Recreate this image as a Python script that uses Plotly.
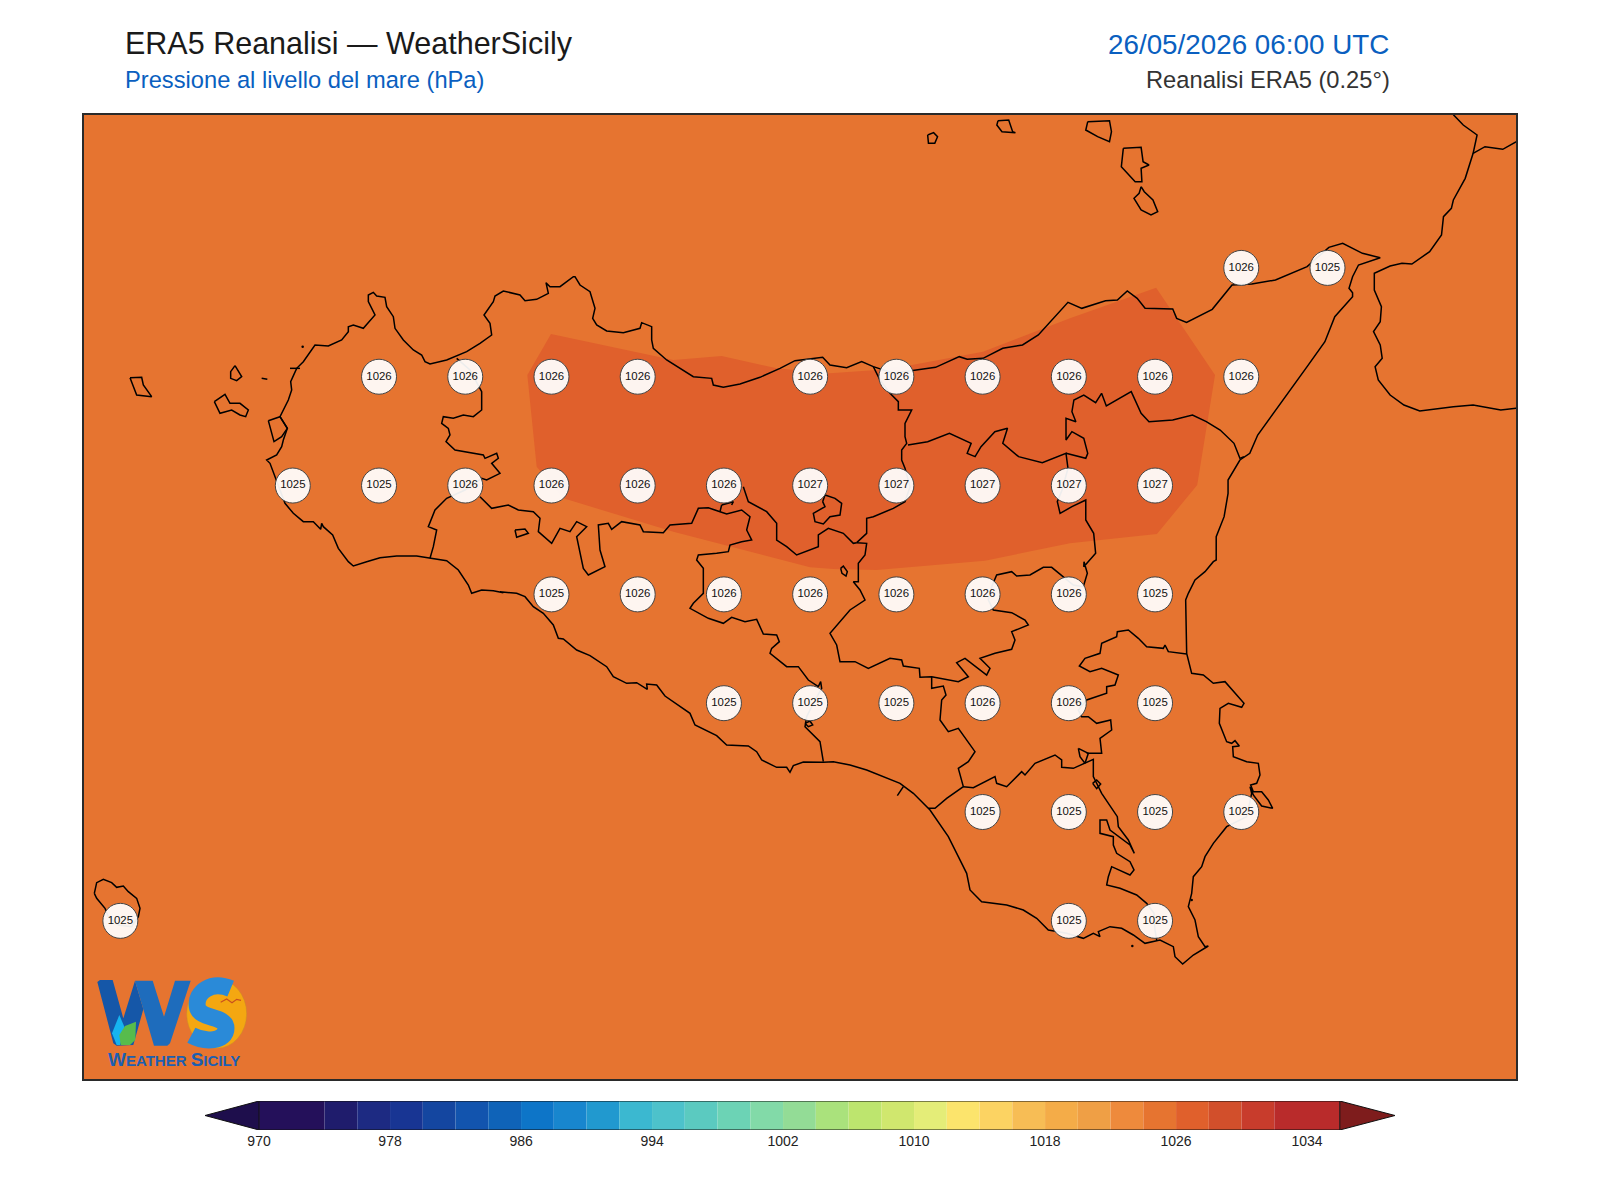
import plotly.graph_objects as go

W, H = 1600, 1200
AX_L, AX_R, AX_T, AX_B = 84, 1516, 115, 1079
CB_L, CB_R, CB_T, CB_B = 205, 1395, 1101, 1130

# ---- title texts
TITLE = "ERA5 Reanalisi — WeatherSicily"
SUBTITLE = "Pressione al livello del mare (hPa)"
DATE = "26/05/2026 06:00 UTC"
SOURCE = "Reanalisi ERA5 (0.25°)"

# ---- colour bar
BAND_EDGES = [970, 974, 976, 978, 980, 982, 984, 986, 988, 990, 992, 994, 996, 998, 1000, 1002, 1004,
              1006, 1008, 1010, 1012, 1014, 1016, 1018, 1020, 1022, 1024, 1026, 1028, 1030, 1032, 1036]
BAND_COLORS = ["#24105A", "#1F1C6C", "#1D2A82", "#183593", "#1446A0", "#1254AE", "#0F63B8", "#0D75C8",
               "#1886CE", "#2199CF", "#3BB8D0", "#4DC2CB", "#5BCAC0", "#6CD3B5", "#82DAA8", "#93DC96",
               "#AAE27C", "#BDE56E", "#D0E76E", "#E4ED78", "#FCE46C", "#FCD362", "#F7BD55", "#F4AC48",
               "#EF9F45", "#EE8A3C", "#E67430", "#E0602C", "#D24F2B", "#C83C2C", "#B92B2B"]
UNDER_COLOR = "#1E0E4C"
OVER_COLOR = "#7E1C1C"
CB_TICKS = [970, 978, 986, 994, 1002, 1010, 1018, 1026, 1034]
CB_MIN, CB_MAX = 966.70, 1039.37

# ---- grid-point pressure labels (lat -> lons, values)
LAB_38_25 = ([15.25, 15.5], [1026, 1025])
LAB_38_00 = ([12.75, 13.0, 13.25, 13.5, 14.0, 14.25, 14.5, 14.75, 15.0, 15.25], [1026] * 10)
LAB_37_75 = ([12.5, 12.75, 13.0, 13.25, 13.5, 13.75, 14.0, 14.25, 14.5, 14.75, 15.0],
             [1025, 1025, 1026, 1026, 1026, 1026, 1027, 1027, 1027, 1027, 1027])
LAB_37_50 = ([13.25, 13.5, 13.75, 14.0, 14.25, 14.5, 14.75, 15.0],
             [1025, 1026, 1026, 1026, 1026, 1026, 1026, 1025])
LAB_37_25 = ([13.75, 14.0, 14.25, 14.5, 14.75, 15.0], [1025, 1025, 1025, 1026, 1026, 1025])
LAB_37_00 = ([14.5, 14.75, 15.0, 15.25], [1025, 1025, 1025, 1025])
LAB_36_75 = ([12.0, 14.75, 15.0], [1025, 1025, 1025])

# ---- digitised outlines: image-read positions, converted to lon/lat below
CROP_A = (80, 260, 3.0)
CROP_B = (500, 260, 3.0)
CROP_C = (900, 110, 2.53, 3.0)
CROP_D = (500, 560, 3.0)
CROP_E = (880, 560, 3.0)
CROP_F = (85, 860, 3.0)

COAST_N1 = [(1270,998),(1240,992),(1205,990),(1175,1000),(1165,975),(1135,930),(1100,902),(1060,895),(1010,888),(950,888),(900,893),(860,905),(820,918),(805,905),(775,865),(758,825),(730,800),(725,790),(722,808),(700,785),(670,785),(640,760),(615,730),(600,690),(575,625),(570,610),(560,600),(590,585),(605,560),(610,540),(622,505),(600,470),(625,420),(635,390),(632,365),(650,325),(670,305),(690,275),(705,255),(745,258),(785,240),(805,215),(805,200),(820,195),(850,205),(885,165),(865,125),(865,105),(880,97),(890,108),(915,112),(920,140),(940,170),(945,205),(970,240),(1000,270),(1025,285),(1035,305),(1050,312),(1100,300),(1160,275),(1200,250),(1235,225),(1230,190),(1212,165),(1240,125),(1245,108),(1270,93),(1320,105),(1335,122),(1370,118),(1405,100),(1398,68),(1410,80),(1440,80),(1480,50)]
COAST_N2 = [(225,50),(240,75),(270,95),(285,145),(278,175),(290,195),(320,213),(370,218),(420,205),(425,188),(455,200),(455,240),(460,265),(500,300),(540,325),(580,350),(635,355),(640,375),(670,382),(720,372),(780,352),(840,325),(885,302),(950,295),(968,292),(990,315),(1040,323),(1085,305),(1120,320),(1180,340)]
COAST_N3 = [(40,780),(90,772),(150,740),(170,748),(210,745),(260,715),(310,705),(350,675),(425,577),(460,595),(520,572),(550,570),(575,543),(600,565),(620,595),(690,597),(700,625),(725,637),(790,598),(840,525),(890,522),(950,510),(1030,470),(1085,412),(1120,400),(1170,430),(1215,443),(1160,465),(1145,500),(1136,535),(1145,548),(1145,560),(1100,620),(1075,695),(1030,770),(950,900),(905,975),(885,1030),(860,1050),(830,1110),(830,1150),(820,1220),(800,1280),(800,1350)]
COAST_E = [(1000,5),(975,35),(945,60),(925,100),(917,120),(920,280),(935,340),(970,345),(1000,370),(1035,365),(1065,400),(1092,430),(1085,442),(1065,435),(1045,430),(1020,445),(1018,490),(1040,545),(1055,550),(1065,542),(1078,558),(1058,560),(1060,590),(1100,605),(1135,610),(1140,645),(1130,670),(1112,675),(1120,695),(1145,695),(1165,720),(1178,745),(1145,738),(1120,705),(1110,680),(1115,700),(1100,770),(1040,800),(1000,850),(975,890),(965,920),(940,950),(935,1000),(925,1040),(945,1080),(955,1130),(975,1160),(985,1158),(965,1170),(940,1185),(908,1212),(885,1190),(880,1160),(840,1140),(795,1150),(760,1125),(725,1105),(690,1100),(655,1115),(660,1130),(640,1120),(610,1135),(560,1120),(505,1110),(470,1075),(430,1050),(380,1035),(340,1030),(305,1025),(270,990),(260,940),(235,890),(205,830),(150,750),(100,700),(60,670),(0,645)]
COAST_S = [(1100,630),(1050,615),(1000,605),(970,607),(910,606),(880,617),(870,637),(860,622),(830,622),(785,600),(770,575),(745,558),(680,555),(650,527),(585,495),(570,460),(540,440),(495,408),(470,375),(440,372),(442,388),(410,368),(380,370),(340,350),(320,320),(270,287),(230,270),(190,237),(175,235),(160,195),(130,160),(100,140),(75,110),(50,100),(0,95)]

BORDER_TP_PA = [(1130,295),(1170,330),(1205,395),(1205,450),(1180,470),(1150,465),(1120,475),(1090,470),(1085,490),(1105,505),(1110,525),(1098,545),(1125,570),(1210,585),(1215,595),(1250,580),(1255,595),(1235,610),(1260,640),(1220,660),(1205,655),(1155,690),(1100,715),(1065,750),(1045,800),(1070,810),(1060,860),(1050,895)]
BORDER_PA_AG1 = [(1200,710),(1235,745),(1285,735),(1315,750),(1360,755),(1380,775),(1375,815),(1415,850),(1440,805),(1470,815)]
BORDER_PA_AG2 = [(230,785),(260,800),(230,830),(240,880),(250,925),(265,945),(315,920),(300,870),(295,795),(325,790),(335,808),(365,785),(420,795),(430,815),(490,818),(510,795),(575,790),(595,745),(625,743),(660,755),(680,762),(725,750),(750,770),(740,810),(755,840),(725,845),(690,855),(685,875),(650,880),(595,885),(590,900),(610,925),(610,1000),(580,1030),(570,1045)]
BORDER_AG_CL = [(570,145),(625,175),(670,190),(695,172),(735,185),(770,178),(790,222),(830,225),(838,245),(815,265),(810,280),(860,320),(895,320),(925,360),(955,380),(962,365),(965,385),(940,430),(920,470),(915,500),(960,545),(970,605)]
BORDER_STUB = [(665,735),(660,755)]
BORDER_STUB2 = [(665,735),(700,725),(695,735)]
BORDER_PA_CL = [(730,680),(745,725),(800,755),(830,790),(830,840),(860,860),(890,885),(955,860),(955,825),(985,805),(1030,820),(1060,850),(1070,848)]
BORDER_ME_1 = [(1120,320),(1140,360),(1170,400),(1195,425),(1195,450),(1235,450),(1215,490),(1215,530),(1220,550),(1205,570),(1205,600),(1215,625),(1230,680),(1215,725),(1180,745),(1120,770),(1100,775),(1100,820),(1070,848),(1100,850),(1095,885),(1075,910),(1075,965),(1060,965),(1080,990),(1095,1020)]
BORDER_EN_1 = [(1050,150),(1000,210),(990,220),(1010,255),(1020,305),(1065,305),(1105,325),(1170,295),(1205,300),(1210,318),(1258,325),(1260,352),(1295,350)]
BORDER_CT_1 = [(155,350),(235,365),(265,350),(230,308),(255,295),(320,345),(330,325),(300,295),(345,280),(395,268),(405,240),(395,215),(445,195),(435,180),(395,158),(340,150),(325,120),(335,80),(350,45),(395,35),(410,48),(450,45),(490,22),(515,22),(550,50),(580,75),(610,80),(622,40),(612,5)]
BORDER_ME_2 = [(465,1370),(495,1330),(490,1270),(470,1230),(470,1170),(435,1190),(405,1210),(398,1175),(410,1140),(425,1075),(420,1030),(360,1058),(300,1040),(260,1000),(272,955),(240,965),(205,1010),(190,1040),(170,1030),(180,1000),(125,970),(70,995),(20,1005)]
BORDER_ME_3 = [(420,1030),(470,1045),(475,1030),(465,985),(435,965),(420,990),(420,925),(445,935),(435,905),(440,870),(465,855),(495,878),(510,850),(522,888),(585,845),(610,910),(630,935),(690,930),(740,915),(775,935),(810,960),(845,1000),(860,1045),(870,1040)]
BORDER_RG_1 = [(155,350),(155,385),(190,378),(198,405),(185,420),(180,480),(205,515),(235,505),(285,575),(265,605),(235,625),(250,680),(200,715),(165,745),(145,745)]
BORDER_RG_2 = [(250,680),(280,683),(345,650),(350,670),(380,680),(425,635),(435,645),(465,610),(525,585),(545,600),(545,622),(580,625),(640,598),(640,650),(665,700),(712,770),(715,800),(745,840),(763,880),(750,855),(690,810),(680,780),(660,780),(660,820),(700,830),(700,855),(710,880),(750,905),(762,930),(750,945),(695,920),(685,950),(680,975),(720,985),(770,1005),(800,1030),(822,1060),(825,1110),(830,1140)]
BORDER_CT_2 = [(620,580),(665,580),(660,535),(695,510),(692,480),(650,490),(625,470),(605,470),(595,450),(620,420),(680,400),(680,380),(705,375),(715,345),(665,325),(630,335),(598,318),(615,295),(660,280),(665,250),(710,230),(712,215),(745,210),(775,235),(800,260),(850,265),(855,255),(865,275),(920,282)]
TICK_GELA = [(1210,680),(1192,707)]

ISLE_MARETTIMO = [(150,353),(185,352),(190,375),(215,410),(170,405),(150,353)]
ISLE_LEVANZO = [(465,317),(485,350),(470,362),(452,355),(452,335),(465,317)]
ISLE_FAVIGNANA = [(403,425),(435,403),(450,430),(480,430),(505,450),(497,470),(480,465),(455,450),(420,460),(403,425)]
ISLE_FORMICA = [(545,355),(562,358)]
ISLE_COFANO = [(630,325),(660,325)]
LAGOON_STAGNONE = [(565,482),(600,470),(622,505),(605,530),(582,545),(565,482)]
POND_SMALL = [(45,810),(75,807),(85,820),(50,832),(45,810)]
LAKE_POZZILLO = [(968,725),(975,705),(1005,715),(1025,730),(1020,765),(990,770),(970,792),(945,785),(940,760),(975,740),(968,725)]
LAKE_PERGUSA = [(1022,925),(1030,918),(1042,935),(1038,948),(1026,940),(1022,925)]
LAKE_BIVIERE = [(595,565),(625,580),(615,610),(600,590),(595,565)]
LAKE_LENTINI = [(638,670),(650,660),(662,672),(650,686),(638,670)]
LAKE_ARANCIO = [(915,490),(930,483),(938,495),(925,500),(915,490)]
ISLE_ALICUDI = [(70,75),(85,68),(95,80),(88,100),(72,100),(70,75)]
ISLE_FILICUDI = [(248,32),(275,30),(285,65),(292,68),(258,65),(245,45),(248,32)]
ISLE_SALINA = [(475,35),(530,32),(535,65),(530,95),(500,80),(470,60),(475,35)]
ISLE_LIPARI = [(565,115),(610,112),(615,155),(630,165),(610,175),(612,215),(595,215),(560,170),(565,115)]
ISLE_VULCANO = [(610,230),(618,245),(640,270),(652,305),(635,315),(610,300),(592,265),(605,250),(610,230)]
ISLE_PANTELLERIA = [(28,100),(35,68),(55,58),(80,68),(95,82),(115,78),(130,95),(155,115),(165,145),(160,170),(140,200),(100,195),(70,170),(60,145),(35,115),(28,100)]
CALABRIA_COAST = [(1400,14),(1425,45),(1460,75),(1450,130),(1430,205),(1400,270),(1395,295),(1375,320),(1370,375),(1340,425),(1295,462),(1270,460),(1240,468),(1200,490),(1200,540),(1218,590),(1215,635),(1198,665),(1215,705),(1220,745),(1202,770),(1210,810),(1240,855),(1275,885),(1315,903),(1400,890),(1450,885),(1520,900),(1575,893)]
CALABRIA_BORDER = [(1450,130),(1480,110),(1525,118),(1560,95),(1575,85)]
CALABRIA_TOP = [(1400,14),(1395,0)]
ISLETS_A = [(668,260)]
ISLETS_E = [(757,1158),(935,1020)]

# ---- 1026-1028 hPa band outline
BAND_A = [(153,222),(82,345),(110,620),(190,715),(520,815),(930,922),(1000,927),(1130,930)]
BAND_C = [(215,1352),(430,1300),(650,1272),(752,1125),(797,795),(648,533),(430,625),(210,725),(30,765)]
BAND_B = [(1130,330),(990,340),(830,325),(665,288),(520,300),(153,222)]


def lon_of(px):
    return 12.5 + (px - 292.8) / 344.9


def lat_of(py):
    return 38.25 - (py - 267.9) / 435.3


def geo(points, crop):
    ox, oy = crop[0], crop[1]
    sx, sy = crop[2], crop[-1]
    return [(lon_of(ox + a / sx), lat_of(oy + b / sy)) for a, b in points]


def line_xy(parts):
    xs, ys = [], []
    for pts in parts:
        xs += [p[0] for p in pts] + [None]
        ys += [p[1] for p in pts] + [None]
    return xs, ys


main_coast = (geo(COAST_N1, CROP_A) + geo(COAST_N2, CROP_B) + geo(COAST_N3, CROP_C) + geo(COAST_E, CROP_E)
              + geo(COAST_S, CROP_D) + geo(COAST_N1[:1], CROP_A))
borders = [
    geo(BORDER_TP_PA, CROP_A),
    geo(BORDER_PA_AG1, CROP_A) + geo(BORDER_PA_AG2, CROP_B) + geo(BORDER_AG_CL, CROP_D),
    geo(BORDER_STUB, CROP_B), geo(BORDER_STUB2, CROP_B), geo(BORDER_PA_CL, CROP_B),
    geo(BORDER_ME_1, CROP_B) + geo(BORDER_EN_1, CROP_D) + geo(BORDER_CT_1, CROP_E) + geo(BORDER_ME_2, CROP_C),
    geo(BORDER_ME_3, CROP_C), geo(BORDER_RG_1, CROP_E), geo(BORDER_RG_2, CROP_E), geo(BORDER_CT_2, CROP_E),
    geo(TICK_GELA, CROP_D),
]
isles = [geo(p, CROP_A) for p in (ISLE_MARETTIMO, ISLE_LEVANZO, ISLE_FAVIGNANA, ISLE_FORMICA, ISLE_COFANO, LAGOON_STAGNONE)]
isles += [geo(p, CROP_B) for p in (POND_SMALL, LAKE_POZZILLO, LAKE_PERGUSA)]
isles += [geo(p, CROP_E) for p in (LAKE_BIVIERE, LAKE_LENTINI)]
isles += [geo(LAKE_ARANCIO, CROP_D), geo(ISLE_PANTELLERIA, CROP_F)]
isles += [geo(p, CROP_C) for p in (ISLE_ALICUDI, ISLE_FILICUDI, ISLE_SALINA, ISLE_LIPARI, ISLE_VULCANO,
                                   CALABRIA_COAST, CALABRIA_BORDER, CALABRIA_TOP)]

band_poly = geo(BAND_A, CROP_B) + geo(BAND_C, CROP_C) + geo(BAND_B, CROP_B)

fig = go.Figure()

# darker pressure band
fig.add_trace(go.Scatter(x=[p[0] for p in band_poly], y=[p[1] for p in band_poly], mode="lines", fill="toself",
                         fillcolor=BAND_COLORS[BAND_EDGES.index(1026)], line=dict(width=0), hoverinfo="skip"))
# coast and borders
cx, cy = line_xy([main_coast] + borders + isles)
fig.add_trace(go.Scatter(x=cx, y=cy, mode="lines", line=dict(color="#000000", width=1.5), hoverinfo="skip"))
islets = geo(ISLETS_A, CROP_A) + geo(ISLETS_E, CROP_E)
fig.add_trace(go.Scatter(x=[p[0] for p in islets], y=[p[1] for p in islets], mode="markers",
                         marker=dict(size=2.5, color="#000000"), hoverinfo="skip"))

# labelled grid points
lab_rows = [(38.25, LAB_38_25), (38.0, LAB_38_00), (37.75, LAB_37_75), (37.5, LAB_37_50), (37.25, LAB_37_25),
            (37.0, LAB_37_00), (36.75, LAB_36_75)]
lab_x, lab_y, lab_t = [], [], []
for lat, (lons, vals) in lab_rows:
    lab_x += lons
    lab_y += [lat] * len(lons)
    lab_t += [str(v) for v in vals]
fig.add_trace(go.Scatter(x=lab_x, y=lab_y, text=lab_t, mode="markers+text", textposition="middle center",
                         textfont=dict(family="Liberation Sans", size=11.4, color="#111111"),
                         marker=dict(size=35, color="rgba(255,255,255,0.93)", line=dict(color="#444444", width=1)),
                         hoverinfo="skip"))

# colour bar
centers = [(a + b) / 2 for a, b in zip(BAND_EDGES[:-1], BAND_EDGES[1:])]
widths = [b - a for a, b in zip(BAND_EDGES[:-1], BAND_EDGES[1:])]
fig.add_trace(go.Bar(x=centers, y=[1] * len(centers), width=widths, marker=dict(color=BAND_COLORS, line=dict(width=0)),
                     xaxis="x2", yaxis="y2", hoverinfo="skip"))
fig.add_trace(go.Scatter(x=[BAND_EDGES[0], CB_MIN, BAND_EDGES[0], BAND_EDGES[0]], y=[0, 0.5, 1, 0], mode="lines",
                         fill="toself", fillcolor=UNDER_COLOR, line=dict(color="#111111", width=1), xaxis="x2",
                         yaxis="y2", cliponaxis=False, hoverinfo="skip"))
fig.add_trace(go.Scatter(x=[BAND_EDGES[-1], CB_MAX, BAND_EDGES[-1], BAND_EDGES[-1]], y=[0, 0.5, 1, 0], mode="lines",
                         fill="toself", fillcolor=OVER_COLOR, line=dict(color="#111111", width=1), xaxis="x2",
                         yaxis="y2", cliponaxis=False, hoverinfo="skip"))
fig.add_trace(go.Scatter(x=[BAND_EDGES[0], BAND_EDGES[-1], None, BAND_EDGES[0], BAND_EDGES[-1]], y=[0, 0, None, 1, 1],
                         mode="lines", line=dict(color="#111111", width=1.2), xaxis="x2", yaxis="y2",
                         cliponaxis=False, hoverinfo="skip"))


def fx(px):
    return px / W


def fy(py):
    return 1 - py / H


def lg(vx, vy):
    # logo crop position -> paper string
    return f"{fx(80 + vx / 3):.5f},{fy(960 + vy / 3):.5f}"


def poly(pts, close=True):
    return "M " + " L ".join(lg(a, b) for a, b in pts) + (" Z" if close else "")


LOGO_W_LEFT = [(52, 66), (60, 60), (98, 60), (130, 175), (165, 62), (190, 148), (160, 255), (110, 257), (100, 250)]
LOGO_W_RIGHT = [(165, 62), (218, 62), (252, 170), (285, 62), (332, 62), (270, 250), (262, 257), (222, 257), (190, 148)]
LOGO_DROP = [(118, 165), (135, 205), (120, 255), (110, 255), (96, 220)]
LOGO_LEAF = [(168, 185), (166, 240), (150, 255), (122, 255), (118, 225), (135, 198)]
LOGO_BIRD = [(422, 127), (440, 117), (456, 128), (470, 118), (483, 121)]
shapes = [
    dict(type="rect", xref="x domain", yref="y domain", x0=0, x1=1, y0=0, y1=1, layer="below",
         fillcolor=BAND_COLORS[BAND_EDGES.index(1024)], line=dict(width=0)),
    dict(type="path", xref="paper", yref="paper", path=poly(LOGO_W_LEFT), fillcolor="#1557A8", line=dict(width=0)),
    dict(type="path", xref="paper", yref="paper", path=poly(LOGO_W_RIGHT), fillcolor="#1E6CBC", line=dict(width=0)),
    dict(type="path", xref="paper", yref="paper", path=poly(LOGO_DROP), fillcolor="#16B4F0", line=dict(width=0)),
    dict(type="path", xref="paper", yref="paper", path=poly(LOGO_LEAF), fillcolor="#57BC4C", line=dict(width=0)),
    dict(type="circle", xref="paper", yref="paper", x0=fx(80 + 320 / 3), x1=fx(80 + 500 / 3), y0=fy(960 + 265 / 3),
         y1=fy(960 + 57 / 3), fillcolor="#F4A711", line=dict(color="#C98A2A", width=0.5)),
    dict(type="path", xref="paper", yref="paper",
         path=f"M {lg(452, 86)} C {lg(395, 62)} {lg(345, 95)} {lg(352, 140)} C {lg(358, 180)} {lg(438, 165)} {lg(438, 205)} "
              f"C {lg(438, 245)} {lg(375, 248)} {lg(334, 226)}",
         fillcolor="rgba(0,0,0,0)", line=dict(color="#2A8AD8", width=17)),
    dict(type="path", xref="paper", yref="paper", path=poly(LOGO_BIRD, False), fillcolor="rgba(0,0,0,0)",
         line=dict(color="#C8501E", width=1.2)),
]

annotations = [
    dict(text=TITLE, x=fx(123.5), y=fy(62), xanchor="left", yanchor="bottom",
         font=dict(family="Liberation Sans", size=30.5, color="#1A1A1A")),
    dict(text=SUBTITLE, x=fx(123.5), y=fy(94), xanchor="left", yanchor="bottom",
         font=dict(family="Liberation Sans", size=23.7, color="#0A5FC0")),
    dict(text=DATE, x=fx(1390), y=fy(61), xanchor="right", yanchor="bottom",
         font=dict(family="Liberation Sans", size=27.8, color="#0A5FC0")),
    dict(text=SOURCE, x=fx(1390.5), y=fy(94), xanchor="right", yanchor="bottom",
         font=dict(family="Liberation Sans", size=23.7, color="#333333")),
    dict(text='<b>W<span style="font-size:15px">EATHER </span>S<span style="font-size:15px">ICILY</span></b>',
         x=fx(173.5), y=fy(1059), xanchor="center", yanchor="middle",
         font=dict(family="Liberation Sans", size=19, color="#1C5FB0")),
]
for a in annotations:
    a.update(xref="paper", yref="paper", showarrow=False, borderpad=0, align="left")

fig.update_layout(
    width=W, height=H, margin=dict(l=0, r=0, t=0, b=0), paper_bgcolor="#FFFFFF",
    plot_bgcolor="#FFFFFF", showlegend=False, barmode="overlay",
    xaxis=dict(domain=[fx(AX_L), fx(AX_R)], range=[lon_of(AX_L), lon_of(AX_R)], showgrid=False, zeroline=False,
               showticklabels=False, ticks="", showline=True, mirror=True, linecolor="#2A2A2A", linewidth=2),
    yaxis=dict(domain=[fy(AX_B), fy(AX_T)], range=[lat_of(AX_B), lat_of(AX_T)], showgrid=False, zeroline=False,
               showticklabels=False, ticks="", showline=True, mirror=True, linecolor="#2A2A2A", linewidth=2),
    xaxis2=dict(domain=[fx(CB_L), fx(CB_R)], range=[CB_MIN, CB_MAX], anchor="y2", showgrid=False, zeroline=False,
                tickmode="array", tickvals=CB_TICKS, ticktext=[str(t) for t in CB_TICKS], ticks="",
                ticklabelstandoff=1, tickfont=dict(family="Liberation Sans", size=14, color="#222222"), showline=False),
    yaxis2=dict(domain=[fy(CB_B), fy(CB_T)], range=[0, 1], anchor="x2", showgrid=False, zeroline=False,
                showticklabels=False, ticks="", showline=False),
    shapes=shapes, annotations=annotations,
)

fig.write_html("out.html", config={"displayModeBar": False},
               post_script="document.body.style.margin='0';document.body.style.overflow='hidden';")
